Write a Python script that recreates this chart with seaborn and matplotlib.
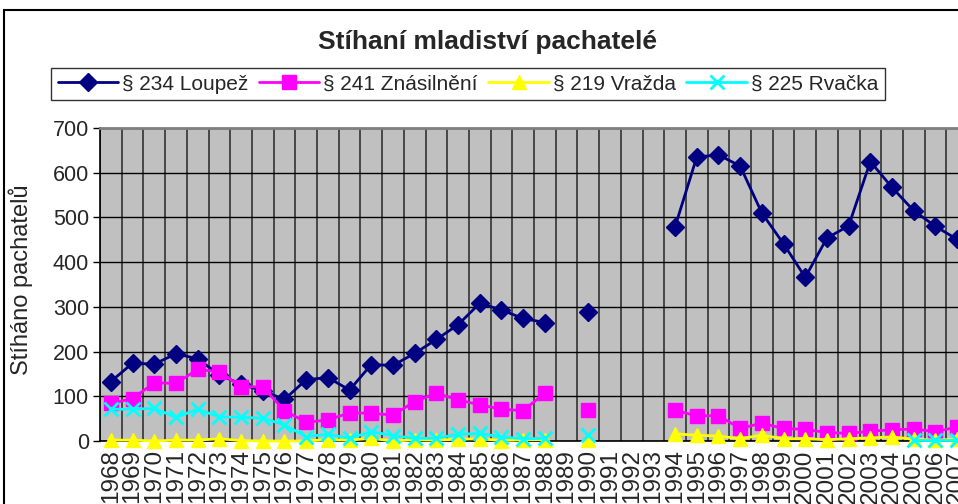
import numpy as np
import pandas as pd
import matplotlib
matplotlib.use("Agg")
import matplotlib.pyplot as plt
from matplotlib.lines import Line2D
from matplotlib.patches import Rectangle
import seaborn as sns

nan = np.nan

years = [str(y) for y in range(1968, 2008)]

loupez = [133, 174, 172, 195, 184, 148, 127, 112, 93, 137,
          142, 114, 171, 169, 196, 227, 260, 308, 293, 274,
          265, nan, 288, nan, nan, nan, 479, 635, 640, 615,
          510, 441, 366, 454, 481, 625, 567, 515, 480, 451]

znasilneni = [84, 95, 130, 129, 160, 155, 121, 121, 68, 42,
              47, 63, 62, 58, 88, 107, 92, 81, 71, 68,
              107, nan, 69, nan, nan, nan, 69, 56, 57, 28,
              40, 28, 26, 19, 17, 22, 25, 27, 21, 31]

vrazda = [2, 2, 0, 2, 2, 5, 1, 0, 0, 0,
          3, 2, 6, 0, 3, 2, 4, 5, 1, 3,
          3, nan, 3, nan, nan, nan, 16, 13, 11, 5,
          13, 5, 5, 3, 5, 7, 9, 4, 2, 4]

rvacka = [71, 71, 73, 53, 71, 54, 53, 51, 36, 10,
          15, 6, 21, 12, 6, 6, 15, 17, 9, 5,
          6, nan, 14, nan, nan, nan, nan, nan, nan, nan,
          nan, nan, nan, nan, nan, nan, nan, 2, 2, 2]

series_names = ["§ 234 Loupež", "§ 241 Znásilnění", "§ 219 Vražda", "§ 225 Rvačka"]
series_values = [loupez, znasilneni, vrazda, rvacka]
colors = ["#000080", "#FF00FF", "#FFFF00", "#00FFFF"]
markers = ["D", "s", "^", "x"]
msizes = [9, 10, 10, 10]

sns.set_style("white")
plt.rcParams["font.family"] = ["Liberation Sans", "DejaVu Sans"]

fig = plt.figure(figsize=(9.58, 5.04), dpi=100)
ax = fig.add_axes([100 / 958, 63 / 504, 868 / 958, 313 / 504])
ax.set_facecolor("#C0C0C0")

pos = np.arange(len(years))
handles = []
for name, vals, col, mk, ms in zip(series_names, series_values, colors, markers, msizes):
    v = pd.Series(vals, dtype=float)
    # split into runs so the gaps stay open
    seg = v.isna().cumsum()
    df = pd.DataFrame({"pos": pos, "val": v, "seg": seg}).dropna()
    sns.lineplot(data=df, x="pos", y="val", units="seg", estimator=None,
                 color=col, marker=mk, markersize=ms, markeredgecolor=col,
                 markeredgewidth=2 if mk == "x" else 1, linewidth=2,
                 legend=False, ax=ax, clip_on=False, zorder=3)
    handles.append(Line2D([], [], color=col, marker=mk, markersize=ms,
                          markeredgecolor=col, linewidth=2,
                          markeredgewidth=2 if mk == "x" else 1))

ax.set_xlim(-0.5, len(years) - 0.5)
ax.set_ylim(0, 700)
ax.set_yticks(range(0, 701, 100))
ax.set_xticks(pos)
ax.set_xticklabels(years, rotation=90, fontsize=17.5)
ax.set_xticks(np.arange(-0.5, len(years), 1), minor=True)
ax.tick_params(axis="x", which="major", length=0, pad=6)
ax.tick_params(axis="x", which="minor", length=0)
ax.tick_params(axis="y", labelsize=15.5, length=5, width=1, color="black", left=True, pad=3)
ax.grid(axis="x", which="minor", color="#333333", linewidth=1.2)
ax.grid(axis="y", which="major", color="black", linewidth=1)
ax.set_axisbelow(True)
ax.set_xlabel("")
ax.set_ylabel("Stíháno pachatelů", fontsize=17)
ax.yaxis.set_label_coords(-0.077, 0.515)

for s in ["left", "bottom"]:
    ax.spines[s].set_color("black")
    ax.spines[s].set_linewidth(1.2)
ax.spines["top"].set_color("#808080")
ax.spines["top"].set_linewidth(2)
ax.spines["right"].set_visible(False)

fig.suptitle("Stíhaní mladiství pachatelé", x=0.509, y=0.917, va="center",
             fontsize=19, fontweight="bold")

leg = fig.legend(handles, series_names, loc="center", bbox_to_anchor=(0.4885, 0.833),
                 ncol=4, fontsize=15, frameon=True, fancybox=False, handlelength=2.9,
                 handletextpad=0.2, columnspacing=0.5, borderpad=0.3)
leg.get_frame().set_edgecolor("black")
leg.get_frame().set_linewidth(1)

fig.patches.append(Rectangle((4 / 958, -0.1), 1.2, 494 / 504 + 0.1, transform=fig.transFigure,
                             fill=False, edgecolor="black", linewidth=1.5, zorder=10))

fig.savefig("out.png", dpi=100)
